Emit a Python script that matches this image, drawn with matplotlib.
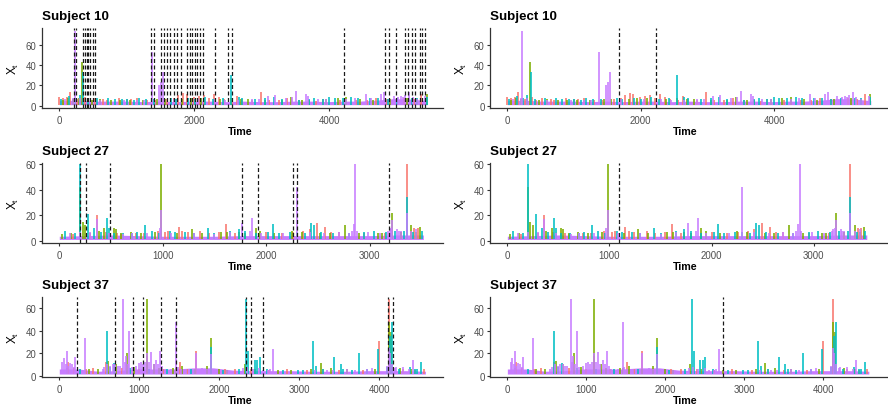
import numpy as np
import matplotlib
matplotlib.use("Agg")
import matplotlib.pyplot as plt

plt.rcParams['font.family'] = ['Liberation Sans', 'DejaVu Sans']
plt.rcParams['mathtext.fontset'] = 'custom'
plt.rcParams['mathtext.rm'] = 'Liberation Sans'

# ==========================================
# data: spikes as (time, value) per series
# ==========================================
series_colors = ['#F8766D', '#7CAE00', '#00BFC4', '#C77CFF']

# --- Subject 10 ---
s10_len = 5450
s10_low = 1.0
s10_band = [5, 5.5, 4.5, 4.5, 4.5, 4, 4.5, 4, 4.5, 4.5, 4, 4.5, 4, 4, 4.5, 4.5, 4, 4.5, 4.5, 5.5, 7, 6.5, 5]
s10_red = [(0, 9), (50, 8), (110, 9), (160, 14), (373, 9), (522, 8), (646, 7), (880, 8), (1000, 7),
           (1143, 8), (1300, 6), (1600, 7), (1764, 11), (1838, 13), (1888, 12), (2062, 10), (2136, 11),
           (2285, 12), (2435, 7), (2633, 10), (2707, 7), (2981, 14), (3250, 6), (3378, 8), (3900, 7),
           (4400, 6), (4694, 8), (5111, 8), (5360, 12)]
s10_red_small = [(260, 7), (430, 6), (700, 6), (1060, 7), (1420, 6), (1700, 8), (1990, 9), (2210, 8),
                 (2360, 9), (2560, 6), (2850, 6), (3100, 6), (3550, 6), (3800, 5), (4150, 6), (4550, 6),
                 (4850, 7), (5250, 7)]
s10_green = [(125, 8), (290, 8), (333, 43), (597, 7), (900, 6), (1450, 7), (1950, 8), (2540, 8), (2690, 7),
             (3428, 9), (3700, 6), (4123, 8), (4247, 9), (4900, 7), (5439, 12)]
s10_green_small = [(60, 6), (200, 7), (480, 6), (760, 6), (1050, 6), (1240, 6), (1560, 7), (1820, 7),
                   (2100, 8), (2380, 7), (2800, 7), (3050, 6), (3300, 6), (3600, 6), (3950, 7), (4450, 7),
                   (4650, 6), (5150, 8), (5300, 7)]
s10_cyan = [(140, 10), (300, 11), (353, 33), (721, 8), (820, 7), (1000, 7), (1180, 8), (1290, 7), (1650, 8),
            (2160, 9), (2545, 30), (2655, 9), (2707, 8), (3180, 9), (3775, 8), (3999, 9), (4198, 8),
            (4322, 9), (4595, 8), (4720, 8), (5216, 8)]
s10_cyan_small = [(20, 7), (230, 8), (420, 7), (560, 8), (920, 7), (1100, 6), (1400, 7), (1720, 7),
                  (1900, 8), (2010, 7), (2280, 7), (2420, 8), (2900, 7), (3050, 8), (3300, 7), (3550, 6),
                  (3700, 7), (3900, 7), (4080, 8), (4420, 8), (4860, 7), (5000, 8), (5300, 8), (5440, 9)]
s10_purple = [(200, 8), (224, 74), (1150, 6), (1377, 53), (1480, 20), (1505, 23), (1540, 33), (2300, 7),
              (2850, 7), (3090, 10), (3189, 11), (3497, 15), (3651, 12), (3676, 10), (3825, 7), (4372, 8),
              (4545, 12), (4620, 8), (4769, 12), (4804, 14), (5017, 9), (5057, 10), (5092, 9), (5176, 14),
              (5420, 10)]
s10_purple_small = [(80, 7), (300, 8), (600, 6), (950, 6), (1250, 6), (1700, 7), (2050, 7), (2450, 6),
                    (2650, 6), (2950, 7), (3350, 8), (3450, 9), (3950, 7), (4250, 7), (4950, 10), (5120, 11),
                    (5230, 9), (5300, 7)]
s10_cp_left = [218, 243, 357, 382, 406, 431, 446, 496, 525, 1358, 1398, 1507, 1547, 1596, 1631, 1695,
               1735, 1794, 1894, 1928, 1968, 2008, 2042, 2082, 2122, 2300, 2503, 2553, 4218, 4818, 4883,
               4992, 5116, 5165, 5225, 5264, 5339, 5373, 5413]
s10_cp_right = [1679, 2226]

# --- Subject 27 ---
s27_len = 3520
s27_low = 1.0
s27_band = [3.5, 4, 4.5, 4, 3.5, 3.5, 3.5, 4, 4, 4, 4, 4, 4, 4.5, 4.5]
s27_red = [(130, 5), (360, 20), (450, 7), (600, 5), (740, 6), (950, 8), (1053, 8), (1155, 11), (1190, 8),
           (1364, 8), (1540, 7), (1611, 13), (1900, 6), (2262, 7), (2358, 8), (2496, 14), (2573, 11),
           (2631, 7), (3359, 60), (3433, 10), (3465, 10)]
s27_red_small = [(300, 6), (560, 6), (820, 6), (1020, 7), (1240, 7), (1450, 6), (1700, 6), (2000, 7),
                 (2150, 6), (2420, 9), (2700, 7), (2950, 6), (3150, 6), (3300, 7)]
s27_green = [(110, 6), (202, 42), (225, 15), (250, 12), (433, 10), (530, 10), (545, 9), (690, 7), (930, 7),
             (988, 60), (1284, 9), (1560, 7), (1733, 7), (1900, 10), (1941, 8), (2246, 8), (2615, 6),
             (2759, 12), (3080, 6), (3221, 22), (3401, 12), (3490, 11)]
s27_green_small = [(30, 5), (380, 8), (600, 6), (790, 6), (1140, 6), (1380, 6), (1620, 7), (1800, 6),
                   (2080, 6), (2350, 7), (2520, 6), (2900, 6), (3120, 6), (3300, 7), (3450, 7)]
s27_cyan = [(58, 8), (202, 60), (279, 21), (337, 10), (459, 18), (481, 10), (616, 6), (754, 7), (828, 12),
            (892, 8), (1075, 8), (1219, 7), (1437, 10), (1650, 8), (1733, 9), (1797, 8), (2021, 7),
            (2063, 13), (2230, 7), (2432, 14), (2461, 12), (2535, 7), (3042, 8), (3337, 8), (3359, 34),
            (3503, 8)]
s27_cyan_small = [(150, 6), (400, 7), (530, 6), (700, 6), (960, 6), (1120, 7), (1300, 6), (1500, 6),
                  (1900, 6), (2120, 6), (2300, 7), (2380, 6), (2650, 6), (2800, 6), (2950, 7), (3160, 7),
                  (3250, 8), (3420, 7)]
s27_purple = [(200, 7), (360, 17), (700, 6), (970, 10), (988, 24), (1300, 6), (1771, 14), (1845, 8),
              (1868, 18), (2166, 6), (2297, 42), (2700, 7), (2830, 8), (2846, 13), (2862, 60), (2878, 8),
              (2984, 7), (3193, 9), (3209, 10), (3221, 16), (3266, 9), (3282, 8), (3359, 22), (3449, 9)]
s27_purple_small = [(100, 6), (300, 7), (480, 6), (620, 5), (850, 6), (1080, 6), (1500, 5), (1650, 7),
                    (1950, 6), (2420, 7), (2560, 6), (2800, 6), (3100, 6), (3180, 8), (3300, 8), (3400, 8)]
s27_cp_left = [199, 263, 494, 1764, 1918, 2258, 2303, 3189]
s27_cp_right = [1093]

# --- Subject 37 ---
s37_len = 4580
s37_low = 1.5
s37_band = [6, 6, 4, 4.5, 6, 6, 6, 7, 7, 5, 4.5, 4.5, 4.5, 4, 4, 4, 4.5, 4.5, 4.5, 4]
s37_red = [(113, 12), (420, 7), (585, 12), (1000, 6), (1095, 18), (1513, 12), (1706, 22), (2070, 6),
           (2843, 6), (3300, 6), (4005, 31), (4126, 68), (4557, 6)]
s37_red_small = [(190, 7), (340, 6), (780, 7), (1300, 6), (1600, 6), (2200, 6), (2400, 6), (2620, 5),
                 (3100, 5), (3500, 5), (3800, 5), (4300, 6), (4450, 5)]
s37_green = [(368, 6), (611, 13), (711, 10), (849, 20), (1095, 68), (1183, 10), (1421, 7), (1463, 7),
             (1539, 9), (1848, 9), (1898, 34), (2000, 6), (2320, 10), (2738, 5), (3269, 11), (3395, 7),
             (4126, 48), (4151, 39), (4264, 7)]
s37_green_small = [(100, 7), (480, 6), (930, 8), (1250, 7), (1700, 6), (2100, 5), (2450, 6), (2900, 5),
                   (3150, 6), (3600, 6), (3950, 6), (4400, 6)]
s37_cyan = [(594, 40), (690, 11), (1900, 26), (2341, 68), (2362, 22), (2446, 14), (2475, 14), (2509, 17),
            (2989, 5), (3177, 31), (3211, 9), (3437, 17), (3524, 10), (3658, 5), (3746, 20), (3993, 24),
            (4140, 35), (4164, 48), (4390, 8), (4450, 6), (4528, 12)]
s37_cyan_small = [(260, 6), (640, 8), (880, 7), (1120, 6), (1350, 6), (1650, 6), (2050, 5), (2250, 6),
                  (2600, 6), (2800, 5), (3050, 5), (3300, 6), (3550, 6), (3850, 6), (4100, 8), (4250, 6),
                  (4480, 6)]
s37_purple = [(21, 5), (63, 16), (96, 22), (134, 11), (159, 10), (201, 17), (230, 5), (322, 34), (544, 6),
              (669, 10), (732, 9), (803, 68), (836, 18), (878, 40), (911, 8), (1045, 10), (1070, 12),
              (1095, 20), (1150, 21), (1212, 14), (1263, 22), (1317, 6), (1463, 48), (1588, 6), (1706, 20),
              (1789, 7), (1898, 19), (2099, 5), (2300, 7), (2550, 5), (2614, 5), (2676, 24), (3345, 5),
              (3596, 6), (3846, 6), (3909, 7), (4126, 25), (4140, 20), (4214, 8), (4306, 8), (4423, 14)]
s37_purple_small = [(40, 12), (80, 10), (110, 9), (180, 8), (560, 8), (600, 10), (640, 9), (700, 10),
                    (760, 9), (820, 12), (860, 10), (960, 9), (1000, 11), (1020, 12), (1120, 12), (1180, 10),
                    (1240, 10), (1290, 9), (1400, 6), (1480, 8), (1520, 6), (1680, 6), (1850, 6), (1950, 6),
                    (2350, 8), (2420, 6), (2500, 7), (2640, 6), (3200, 5), (3420, 5), (3700, 5), (4100, 9),
                    (4160, 10), (4200, 7), (4380, 6)]
s37_cp_left = [217, 697, 918, 1043, 1276, 1460, 2332, 2398, 2553, 4108, 4179]
s37_cp_right = [2730]

subjects = ['Subject 10', 'Subject 27', 'Subject 37']
x_ticks = [[0, 2000, 4000], [0, 1000, 2000, 3000], [0, 1000, 2000, 3000, 4000]]
x_lims = [(-262, 5686), (-170, 3713), (-220, 4804)]
y_lims = [(-2.3, 76.5), (-1.8, 60.8), (-1.4, 69.8)]

# ==========================================
# layout in pixels
# ==========================================
W, H = 888, 406
fig = plt.figure(figsize=(W / 100, H / 100), dpi=100)

col_lr = [(41.7, 443.3), (490.0, 886.5)]
row_tb = [(29.3, 109.0), (164.3, 244.0), (298.3, 378.3)]

rows = [
    (s10_len, s10_low, s10_band,
     [s10_red + s10_red_small, s10_green + s10_green_small, s10_cyan + s10_cyan_small,
      s10_purple + s10_purple_small], [s10_cp_left, s10_cp_right]),
    (s27_len, s27_low, s27_band,
     [s27_red + s27_red_small, s27_green + s27_green_small, s27_cyan + s27_cyan_small,
      s27_purple + s27_purple_small], [s27_cp_left, s27_cp_right]),
    (s37_len, s37_low, s37_band,
     [s37_red + s37_red_small, s37_green + s37_green_small, s37_cyan + s37_cyan_small,
      s37_purple + s37_purple_small], [s37_cp_left, s37_cp_right]),
]


def draw_panel(ax, length, low, band, spikes, cps, ylim):
    for k, sp in enumerate(spikes):
        sp = np.array(sp, dtype=float)
        if k == 3:
            bt = np.linspace(0, length, len(band))
            ax.fill_between(bt, low, band, color=series_colors[3], lw=0)
        ax.vlines(sp[:, 0], low, sp[:, 1], colors=series_colors[k], lw=1.15)
    for c in cps:
        ax.vlines(c, ylim[0], ylim[1], colors='#1a1a1a', lw=0.9, linestyles=(0, (3.2, 2.0)))


for r, (length, low, band, spikes, cps) in enumerate(rows):
    top, bot = row_tb[r]
    for c in range(2):
        left, right = col_lr[c]
        ax = fig.add_axes([left / W, 1 - bot / H, (right - left) / W, (bot - top) / H])
        draw_panel(ax, length, low, band, spikes, cps[c], y_lims[r])
        ax.set_xlim(x_lims[r])
        ax.set_ylim(y_lims[r])
        ax.set_xticks(x_ticks[r])
        ax.set_yticks([0, 20, 40, 60])
        for s in ['top', 'right']:
            ax.spines[s].set_visible(False)
        for s in ['left', 'bottom']:
            ax.spines[s].set_color('#333333')
            ax.spines[s].set_linewidth(0.9)
        ax.tick_params(length=2.2, width=0.8, color='#333333', labelcolor='#4D4D4D',
                       labelsize=6.9, pad=1.6)
        ax.tick_params(axis='x', pad=2.6)
        fig.text(left / W, 1 - (top - 9.6) / H, subjects[r],
                 fontsize=9.6, fontweight='bold', ha='left', va='baseline')
        fig.text((left + 17.6 + (right - left - 17.6) * 0.47) / W, 1 - (bot + 22.7) / H, 'Time',
                 fontsize=7.7, fontweight='bold', ha='center', va='center')
        fig.text((left - 28.5) / W, 1 - (top + bot) / 2 / H, r'X$_\mathrm{t}$',
                 fontsize=8.5, rotation=90, ha='center', va='center')

fig.savefig('out.png', dpi=100)
